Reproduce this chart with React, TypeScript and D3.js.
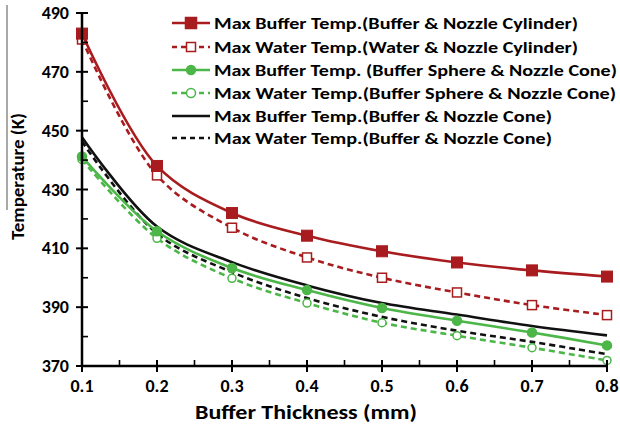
import React, { useRef, useEffect } from 'react';
import * as d3 from 'd3';

// buffer thickness (mm)
const thickness = [0.1, 0.2, 0.3, 0.4, 0.5, 0.6, 0.7, 0.8];

// temperatures (K)
const bufferCyl = [483, 438, 422, 414.3, 409, 405.2, 402.5, 400.4];
const waterCyl = [481, 434.8, 417, 406.9, 400, 395, 390.7, 387.3];
const bufferSphereCone = [441.2, 415.8, 403.3, 395.8, 389.7, 385.4, 381.4, 377];
const waterSphereCone = [440.2, 413.4, 399.8, 391.4, 384.7, 380.3, 376.2, 371.9];
const bufferCone = [447.8, 417.4, 405.3, 397.4, 391.4, 387.5, 383.6, 380.4];
const waterCone = [446.3, 415, 401.9, 393.1, 386.7, 382, 378.2, 374];

const xTicks = [0.1, 0.2, 0.3, 0.4, 0.5, 0.6, 0.7, 0.8];
const yTicks = [370, 390, 410, 430, 450, 470, 490];

const RED = '#a81c1f';
const GREEN = '#4cb648';

const series = [
    {name: 'Max Buffer Temp.(Buffer & Nozzle Cylinder)', values: bufferCyl, color: RED, dash: null, marker: 'square', filled: true, textEnd: 578},
    {name: 'Max Water Temp.(Water & Nozzle Cylinder)', values: waterCyl, color: RED, dash: '6,4', marker: 'square', filled: false, textEnd: 578},
    {name: 'Max Buffer Temp. (Buffer Sphere & Nozzle Cone)', values: bufferSphereCone, color: GREEN, dash: null, marker: 'circle', filled: true, textEnd: 617},
    {name: 'Max Water Temp.(Buffer Sphere & Nozzle Cone)', values: waterSphereCone, color: GREEN, dash: '6,4', marker: 'circle', filled: false, textEnd: 616},
    {name: 'Max Buffer Temp.(Buffer & Nozzle Cone)', values: bufferCone, color: '#111', dash: null, marker: null, filled: true, textEnd: 552},
    {name: 'Max Water Temp.(Buffer & Nozzle Cone)', values: waterCone, color: '#111', dash: '6,4', marker: null, filled: false, textEnd: 552},
];

const App = () => {
    const svgRef = useRef(null);
    const width = 620, height = 433;

    useEffect(() => {
        const svg = d3.select(svgRef.current);
        svg.selectAll('*').remove();

        const x = d3.scaleLinear().domain([0.1, 0.8]).range([82, 607]);
        const y = d3.scaleLinear().domain([370, 490]).range([366, 13]);
        const font = 'Calibri, Carlito, "Open Sans", sans-serif';

        // stray line left of the axis title
        svg.append('line')
            .attr('x1', 7).attr('x2', 7).attr('y1', 5).attr('y2', 210)
            .attr('stroke', '#555').attr('stroke-width', 1);

        const line = d3.line()
            .x((d, i) => x(thickness[i]))
            .y(d => y(d))
            .curve(d3.curveCatmullRom.alpha(0.5));

        // draw back to front so red stays on top like the original
        series.slice().reverse().forEach(s => {
            svg.append('path')
                .datum(s.values)
                .attr('d', line)
                .attr('fill', 'none')
                .attr('stroke', s.color)
                .attr('stroke-width', 2.6)
                .attr('stroke-dasharray', s.dash);

            if (s.marker === 'square') {
                const sz = s.filled ? 11 : 9;
                svg.selectAll(null).data(s.values).enter().append('rect')
                    .attr('x', (d, i) => x(thickness[i]) - sz / 2)
                    .attr('y', d => y(d) - sz / 2)
                    .attr('width', sz).attr('height', sz)
                    .attr('fill', s.filled ? s.color : '#fff')
                    .attr('stroke', s.color)
                    .attr('stroke-width', s.filled ? 1 : 1.5);
            } else if (s.marker === 'circle') {
                svg.selectAll(null).data(s.values).enter().append('circle')
                    .attr('cx', (d, i) => x(thickness[i]))
                    .attr('cy', d => y(d))
                    .attr('r', s.filled ? 4.5 : 4)
                    .attr('fill', s.filled ? s.color : '#fff')
                    .attr('stroke', s.color)
                    .attr('stroke-width', 1.5);
            }
        });

        // axes
        const axis = svg.append('g').attr('stroke', '#000');
        axis.append('line').attr('x1', 82).attr('x2', 82).attr('y1', 13).attr('y2', 366).attr('stroke-width', 2.5);
        axis.append('line').attr('x1', 81).attr('x2', 608).attr('y1', 366).attr('y2', 366).attr('stroke-width', 2.5);

        yTicks.forEach(t => {
            axis.append('line').attr('x1', 76).attr('x2', 88).attr('y1', y(t)).attr('y2', y(t)).attr('stroke-width', 2);
            if (t < 490) {
                axis.append('line').attr('x1', 82).attr('x2', 88).attr('y1', y(t + 10)).attr('y2', y(t + 10)).attr('stroke-width', 1.6);
            }
        });
        xTicks.forEach(t => {
            axis.append('line').attr('x1', x(t)).attr('x2', x(t)).attr('y1', 360).attr('y2', 372).attr('stroke-width', 2);
            if (t < 0.8) {
                axis.append('line').attr('x1', x(t + 0.05)).attr('x2', x(t + 0.05)).attr('y1', 360).attr('y2', 366).attr('stroke-width', 1.6);
            }
        });

        svg.selectAll('.ylab').data(yTicks).enter().append('text')
            .attr('x', 69).attr('y', d => y(d) + 6)
            .attr('text-anchor', 'end')
            .attr('font-family', font).attr('font-weight', 700).attr('font-size', 18)
            .text(d => d);

        svg.selectAll('.xlab').data(xTicks).enter().append('text')
            .attr('x', d => x(d)).attr('y', 392)
            .attr('text-anchor', 'middle')
            .attr('font-family', font).attr('font-weight', 700).attr('font-size', 18)
            .text(d => d.toFixed(1));

        svg.append('text')
            .attr('x', 195).attr('y', 419)
            .attr('font-family', font).attr('font-weight', 700).attr('font-size', 21)
            .attr('textLength', 222)
            .attr('lengthAdjust', 'spacingAndGlyphs')
            .text('Buffer Thickness (mm)');

        svg.append('text')
            .attr('transform', 'translate(24, 240) rotate(-90)')
            .attr('font-family', font).attr('font-weight', 700).attr('font-size', 19)
            .attr('textLength', 127)
            .attr('lengthAdjust', 'spacingAndGlyphs')
            .text('Temperature (K)');

        // legend
        const rowY = [23, 47, 70, 93, 116, 138];
        series.forEach((s, i) => {
            const g = svg.append('g').attr('transform', 'translate(0,' + rowY[i] + ')');
            g.append('line')
                .attr('x1', 172).attr('x2', 210).attr('y1', 0).attr('y2', 0)
                .attr('stroke', s.color).attr('stroke-width', 2.6)
                .attr('stroke-dasharray', s.dash ? '5,4' : null);
            if (s.marker === 'square') {
                const sz = s.filled ? 11 : 9;
                g.append('rect').attr('x', 191 - sz / 2).attr('y', -sz / 2).attr('width', sz).attr('height', sz)
                    .attr('fill', s.filled ? s.color : '#fff').attr('stroke', s.color).attr('stroke-width', 1.5);
            } else if (s.marker === 'circle') {
                g.append('circle').attr('cx', 191).attr('cy', 0).attr('r', 4.5)
                    .attr('fill', s.filled ? s.color : '#fff').attr('stroke', s.color).attr('stroke-width', 1.5);
            }
            g.append('text')
                .attr('x', 214).attr('y', 6)
                .attr('font-family', font).attr('font-weight', 700).attr('font-size', 16.5)
                .attr('textLength', s.textEnd - 214)
                .attr('lengthAdjust', 'spacingAndGlyphs')
                .text(s.name);
        });
    }, []);

    return (
        <svg ref={svgRef} width={width} height={height}
             style={{display: 'block', position: 'absolute', left: 0, top: 0, background: '#fff'}}/>
    );
};

export default App;
